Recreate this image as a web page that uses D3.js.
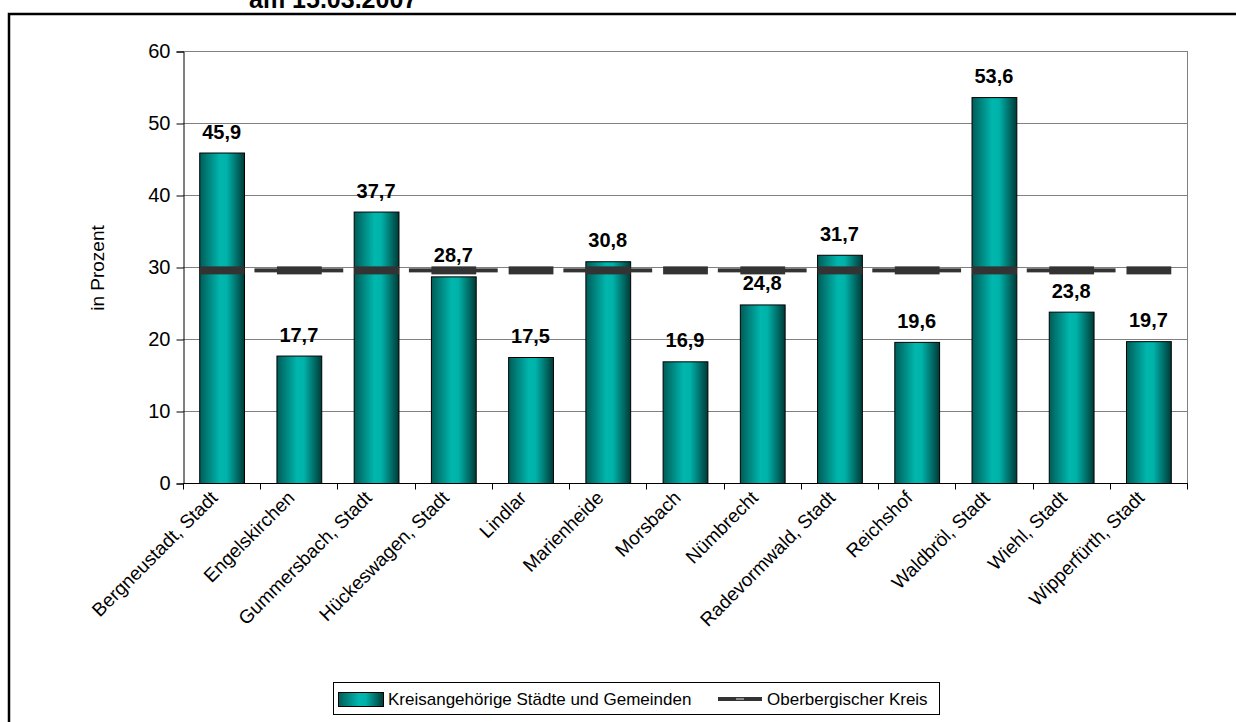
<!DOCTYPE html>
<html>
<head>
<meta charset="utf-8">
<script src="https://cdn.jsdelivr.net/npm/d3@7"></script>
<style>
  body { margin: 0; background: #fff; }
  svg text { font-family: "Liberation Sans", Arial, sans-serif; }
</style>
</head>
<body>
<div class="chart"></div>
<script>
// chart size
const WIDTH = 1236;
const HEIGHT = 722;

// data
const gemeinden = ["Bergneustadt, Stadt", "Engelskirchen", "Gummersbach, Stadt", "Hückeswagen, Stadt",
  "Lindlar", "Marienheide", "Morsbach", "Nümbrecht", "Radevormwald, Stadt", "Reichshof",
  "Waldbröl, Stadt", "Wiehl, Stadt", "Wipperfürth, Stadt"];
const werte = [45.9, 17.7, 37.7, 28.7, 17.5, 30.8, 16.9, 24.8, 31.7, 19.6, 53.6, 23.8, 19.7];
const kreisWert = [29.6, 29.6, 29.6, 29.6, 29.6, 29.6, 29.6, 29.6, 29.6, 29.6, 29.6, 29.6, 29.6];
const yTicks = [0, 10, 20, 30, 40, 50, 60];

const plot = { left: 183, right: 1187, top: 51, bottom: 483 };

const xScale = d3.scaleBand().domain(gemeinden).range([plot.left, plot.right]).paddingInner(0.42).paddingOuter(0.21);
const xBand = d3.scaleBand().domain(gemeinden).range([plot.left, plot.right]);
const yScale = d3.scaleLinear().domain([0, 60]).range([plot.bottom, plot.top]);

const fmt = v => d3.format(".1f")(v).replace(".", ",");

const svg = d3.select(".chart")
  .append("svg")
  .attr("width", WIDTH)
  .attr("height", HEIGHT);

const defs = svg.append("defs");
const grad = defs.append("linearGradient").attr("id", "barGrad").attr("x1", "0").attr("x2", "1").attr("y1", "0").attr("y2", "0");
grad.append("stop").attr("offset", "0%").attr("stop-color", "#005c58");
grad.append("stop").attr("offset", "45%").attr("stop-color", "#00b6ad");
grad.append("stop").attr("offset", "60%").attr("stop-color", "#00b3aa");
grad.append("stop").attr("offset", "100%").attr("stop-color", "#003a37");

// outer frame
svg.append("rect")
  .attr("x", 9).attr("y", 14).attr("width", 1240).attr("height", 720)
  .attr("fill", "none").attr("stroke", "#000").attr("stroke-width", 2.5);

// title (cut off at top like in the original)
svg.append("text")
  .attr("x", 249).attr("y", 8)
  .style("font-size", "25px").style("font-weight", "bold")
  .text("am 15.03.2007");

// gridlines
svg.append("g").selectAll("line")
  .data(yTicks.filter(d => d > 0))
  .join("line")
  .attr("x1", plot.left).attr("x2", plot.right)
  .attr("y1", d => yScale(d) + 0.5).attr("y2", d => yScale(d) + 0.5)
  .attr("stroke", "#808080").attr("stroke-width", 1);

// right border of plot area
svg.append("line")
  .attr("x1", plot.right + 0.5).attr("x2", plot.right + 0.5)
  .attr("y1", plot.top).attr("y2", plot.bottom)
  .attr("stroke", "#808080");

// y axis
const yAxis = svg.append("g")
  .attr("transform", `translate(${plot.left + 0.5},0.5)`)
  .call(d3.axisLeft(yScale).tickValues(yTicks).tickSize(7).tickPadding(6).tickFormat(d3.format("d")));
yAxis.select(".domain").attr("stroke", "#000");
yAxis.selectAll("text").style("font-size", "20px").attr("fill", "#000").attr("font-family", null);

svg.append("text")
  .attr("transform", `translate(104,268) rotate(-90)`)
  .attr("text-anchor", "middle")
  .style("font-size", "19px")
  .text("in Prozent");

// bars
svg.append("g").selectAll("rect")
  .data(werte)
  .join("rect")
  .attr("x", (d, i) => xScale(gemeinden[i]) + 0.5)
  .attr("y", d => yScale(d) + 0.5)
  .attr("width", xScale.bandwidth())
  .attr("height", d => yScale(0) - yScale(d))
  .attr("fill", "url(#barGrad)")
  .attr("stroke", "#000").attr("stroke-width", 1);

// x axis
const xAxisG = svg.append("g").attr("transform", `translate(0,${plot.bottom + 0.5})`);
xAxisG.append("line").attr("x1", plot.left).attr("x2", plot.right + 1).attr("stroke", "#000");
xAxisG.selectAll("line.tick")
  .data(gemeinden.concat(["end"]))
  .join("line")
  .attr("class", "tick")
  .attr("x1", (d, i) => Math.round(plot.left + i * xBand.bandwidth()) + 0.5)
  .attr("x2", (d, i) => Math.round(plot.left + i * xBand.bandwidth()) + 0.5)
  .attr("y1", 0).attr("y2", 6)
  .attr("stroke", "#000");

svg.append("g").selectAll("text")
  .data(gemeinden)
  .join("text")
  .attr("transform", d => `translate(${xBand(d) + xBand.bandwidth() / 2 - 3},${plot.bottom + 16}) rotate(-45)`)
  .attr("text-anchor", "end")
  .style("font-size", "19px")
  .text(d => d);

// Oberbergischer Kreis line: thick dashes over bars, thin pieces in between
const lineG = svg.append("g");
lineG.selectAll("rect.thin")
  .data(kreisWert.map((v, i) => ({ v, i })).filter(d => d.i % 2 === 1))
  .join("rect")
  .attr("class", "thin")
  .attr("x", d => xScale(gemeinden[d.i]) - 22)
  .attr("y", d => yScale(d.v) - 1.5)
  .attr("width", xScale.bandwidth() + 44)
  .attr("height", 4)
  .attr("fill", "#333");
lineG.selectAll("rect.thick")
  .data(kreisWert)
  .join("rect")
  .attr("class", "thick")
  .attr("x", (d, i) => xScale(gemeinden[i]) + 0.5)
  .attr("y", d => yScale(d) - 3.5)
  .attr("width", xScale.bandwidth())
  .attr("height", 8)
  .attr("fill", "#333");

// value labels
svg.append("g").selectAll("text")
  .data(werte)
  .join("text")
  .attr("x", (d, i) => xScale(gemeinden[i]) + xScale.bandwidth() / 2)
  .attr("y", d => yScale(d) - 14)
  .attr("text-anchor", "middle")
  .style("font-size", "20px").style("font-weight", "bold")
  .text(d => fmt(d));

// legend
const legend = svg.append("g");
legend.append("rect")
  .attr("x", 333.5).attr("y", 682.5).attr("width", 606).attr("height", 32)
  .attr("fill", "#fff").attr("stroke", "#000");
legend.append("rect")
  .attr("x", 338.5).attr("y", 692.5).attr("width", 45).attr("height", 14)
  .attr("fill", "url(#barGrad)").attr("stroke", "#000");
legend.append("text")
  .attr("x", 388).attr("y", 705)
  .style("font-size", "17px")
  .text("Kreisangehörige Städte und Gemeinden");
legend.append("rect")
  .attr("x", 718).attr("y", 697).attr("width", 44).attr("height", 4).attr("fill", "#333");
legend.append("rect")
  .attr("x", 736).attr("y", 698).attr("width", 8).attr("height", 2).attr("fill", "#888");
legend.append("text")
  .attr("x", 767).attr("y", 705)
  .style("font-size", "17px")
  .text("Oberbergischer Kreis");
</script>
</body>
</html>
